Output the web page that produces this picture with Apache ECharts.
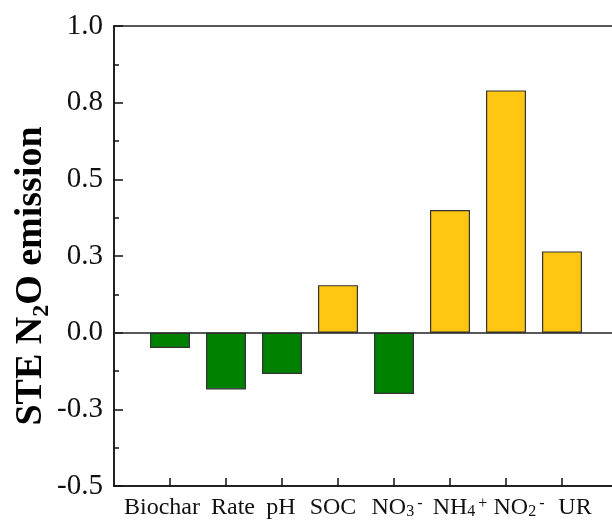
<!DOCTYPE html>
<html>
<head>
<meta charset="utf-8">
<script src="https://cdn.jsdelivr.net/npm/echarts@6/dist/echarts.min.js"></script>
<style>html,body{margin:0;padding:0;background:#fff}#c{width:612px;height:523px}</style>
</head>
<body>
<div id="c"></div>
<script>
var categories = ['Biochar', 'Rate', 'pH', 'SOC', 'NO3-', 'NH4+', 'NO2-', 'UR'];
var categoryLabels = ['{m|Biochar}', '{m|Rate}', '{m|pH}', '{m|SOC}', '{m|NO}{sub|3}{sup|-}', '{m|NH}{sub|4}{sup|+}', '{m|NO}{sub|2}{sup|-}', '{m|UR}'];
var steValues = [-0.05, -0.185, -0.135, 0.155, -0.20, 0.40, 0.79, 0.265];
var yTickValues = [-0.5, -0.25, 0, 0.25, 0.5, 0.75, 1.0];
var yTickLabels = ['-0.5', '-0.3', '0.0', '0.3', '0.5', '0.8', '1.0'];
// horizontal label nudges (px) to mimic the reference typesetting
var labelShift = [-8, 7, -1, -5, 3, 10, 13, 13];

var FONT = 'Liberation Serif, Times New Roman, serif';
var axisCats = [''].concat(categories, ['']);
var labelMap = {};
var rich = {
  m: {fontFamily: FONT, fontSize: 24, color: '#111', lineHeight: 24, verticalAlign: 'top'},
  sub: {fontFamily: FONT, fontSize: 16, color: '#111', lineHeight: 16, verticalAlign: 'bottom'},
  sup: {fontFamily: FONT, fontSize: 16, color: '#111', lineHeight: 16, verticalAlign: 'top', padding: [0, 0, 0, 3]}
};
categories.forEach(function (c, i) {
  var s = labelShift[i];
  var key = 'g' + i;
  rich[key] = {width: Math.abs(s) * 2, fontSize: 10, lineHeight: 10, verticalAlign: 'top'};
  var sp = '{' + key + '| }';
  labelMap[c] = s > 0 ? sp + categoryLabels[i] : categoryLabels[i] + sp;
});
var seriesData = [null].concat(steValues, [null]);

var chart = echarts.init(document.getElementById('c'), null, {renderer: 'canvas'});
chart.setOption({
  animation: false,
  backgroundColor: '#fff',
  grid: {left: 114, top: 26, bottom: 37, right: -6, containLabel: false, outerBoundsMode: 'none',
    show: true, borderColor: '#222', borderWidth: 1.5, backgroundColor: 'transparent'},
  xAxis: {
    type: 'category',
    data: axisCats,
    boundaryGap: false,
    axisLine: {show: true, onZero: false, lineStyle: {color: '#111', width: 1.5}},
    axisTick: {show: true, inside: true, length: 8, lineStyle: {color: '#111', width: 1.5},
      interval: function (idx) { return idx > 0 && idx < axisCats.length - 1; }},
    axisLabel: {
      margin: 10,
      interval: 0,
      hideOverlap: false,
      formatter: function (v) { return labelMap[v] || ''; },
      rich: rich
    },
    splitLine: {show: false}
  },
  yAxis: {
    type: 'value',
    min: -0.5, max: 1.0, interval: 0.25,
    name: '{b|STE N}{s|2}{b|O emission}',
    nameLocation: 'middle',
    nameGap: 60,
    nameMoveOverlap: false,
    nameTextStyle: {
      padding: [0, 40, 0, 0],
      rich: {
        b: {fontFamily: FONT, fontWeight: 'bold', fontSize: 38, color: '#000', lineHeight: 42, verticalAlign: 'top'},
        s: {fontFamily: FONT, fontWeight: 'bold', fontSize: 24, color: '#000', lineHeight: 24, verticalAlign: 'bottom'}
      }
    },
    axisLine: {show: true, lineStyle: {color: '#111', width: 1.5}},
    axisTick: {show: true, inside: true, length: 9, lineStyle: {color: '#111', width: 1.5}},
    minorTick: {show: true, splitNumber: 2, length: 5, lineStyle: {color: '#111', width: 1.5}},
    axisLabel: {
      margin: 11,
      fontFamily: FONT, fontSize: 29, color: '#111',
      formatter: function (v) {
        for (var i = 0; i < yTickValues.length; i++) {
          if (Math.abs(yTickValues[i] - v) < 1e-9) return yTickLabels[i];
        }
        return '';
      }
    },
    splitLine: {show: false}
  },
  series: [{
    type: 'bar',
    data: seriesData,
    barWidth: 40,
    itemStyle: {
      color: function (p) { return p.value < 0 ? '#008000' : '#FFC612'; },
      borderColor: '#333', borderWidth: 1.2
    },
    markLine: {
      silent: true, symbol: 'none', label: {show: false},
      lineStyle: {color: '#222', width: 1.5, type: 'solid'},
      data: [{yAxis: 0}]
    }
  }]
});
</script>
</body>
</html>
